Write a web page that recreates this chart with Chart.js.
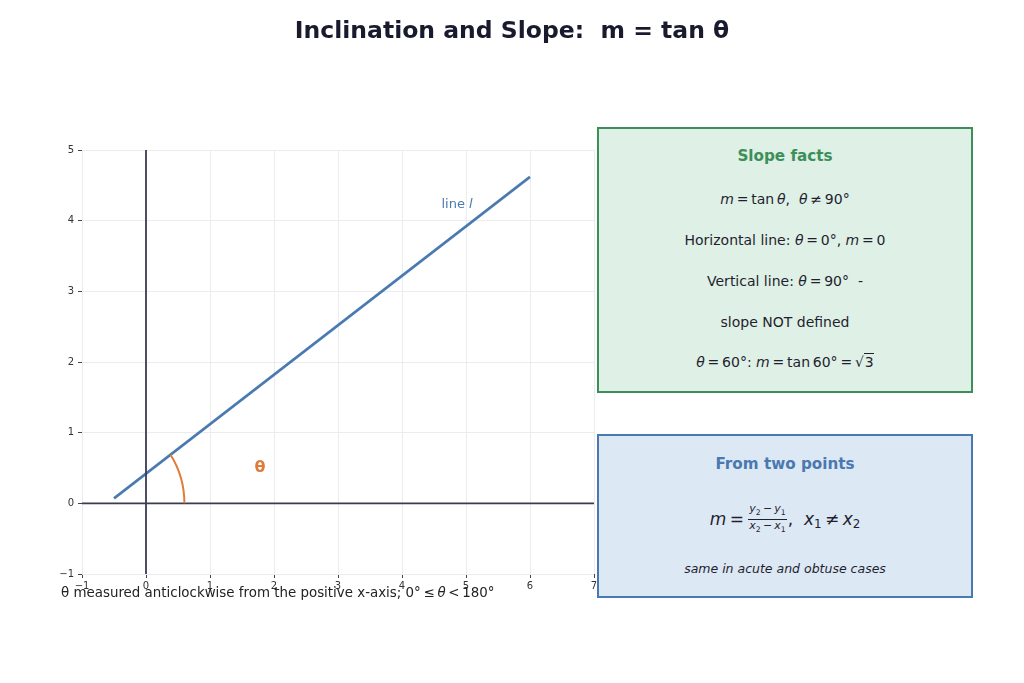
<!DOCTYPE html>
<html>
<head>
<meta charset="utf-8">
<script src="https://cdn.jsdelivr.net/npm/chart.js@4.4.1/dist/chart.umd.min.js"></script>
<style>
  html, body { margin: 0; padding: 0; background: #fff; }
  body { width: 1024px; height: 683px; position: relative; overflow: hidden;
         font-family: "DejaVu Sans", sans-serif; color: #1f1f2e; }
  #wrap { position: absolute; left: 0; top: 0; width: 1024px; height: 683px; }
  .title { position: absolute; left: 0; width: 1024px; top: 16px; text-align: center;
           font-size: 23.5px; font-weight: bold; color: #1a1a2e; }
  .caption { position: absolute; left: 61px; top: 585px; font-size: 13.4px; color: #222; white-space: nowrap; }
  .box { position: absolute; left: 597px; width: 376px; box-sizing: border-box; }
  .green { top: 127px; height: 266px; background: #dff0e6; border: 2px solid #3d8f5a; }
  .blue { top: 434px; height: 164px; background: #dde8f5; border: 2px solid #4a78b0; }
  .ln { position: absolute; left: 0; width: 100%; height: 22px; line-height: 22px;
        text-align: center; font-size: 14px; color: #1f1f2e; white-space: nowrap; }
  .hd { font-weight: bold; font-size: 15.2px; }
  i { font-style: italic; }
  .frac { display: inline-block; vertical-align: middle; font-size: 11px; line-height: 12px;
          text-align: center; margin: 0 1px; }
  .frac span { display: block; }
  .frac .num { border-bottom: 1px solid #1f1f2e; padding: 0 1px; }
  sub { font-size: 70%; vertical-align: -3px; }
  .sqrt { border-top: 1px solid #1f1f2e; padding-left: 1px; }
</style>
</head>
<body>
<div id="wrap"><canvas id="slopeChart" width="1024" height="683"></canvas></div>
<div class="title">Inclination and Slope:&nbsp; m = tan θ</div>
<div class="caption">θ measured anticlockwise from the positive x-axis; 0°&thinsp;≤&thinsp;<i>θ</i>&thinsp;&lt;&thinsp;180°</div>

<div class="box green">
  <div class="ln hd" style="top:16px;color:#3d8f5a">Slope facts</div>
  <div class="ln" style="top:59px"><i>m</i>&thinsp;=&thinsp;tan&thinsp;<i>θ</i>,&nbsp; <i>θ</i>&thinsp;≠&thinsp;90°</div>
  <div class="ln" style="top:100px">Horizontal line: <i>θ</i>&thinsp;=&thinsp;0°, <i>m</i>&thinsp;=&thinsp;0</div>
  <div class="ln" style="top:141px">Vertical line: <i>θ</i>&thinsp;=&thinsp;90° &nbsp;-</div>
  <div class="ln" style="top:182px">slope NOT defined</div>
  <div class="ln" style="top:222px"><i>θ</i>&thinsp;=&thinsp;60°: <i>m</i>&thinsp;=&thinsp;tan&thinsp;60°&thinsp;=&thinsp;√<span class="sqrt">3</span></div>
</div>

<div class="box blue">
  <div class="ln hd" style="top:17px;color:#4a78b0">From two points</div>
  <div class="ln" style="top:67px;font-size:17px;height:30px;line-height:30px">
    <i>m</i>&thinsp;=&thinsp;<span class="frac"><span class="num"><i>y</i><sub>2</sub>&thinsp;−&thinsp;<i>y</i><sub>1</sub></span><span><i>x</i><sub>2</sub>&thinsp;−&thinsp;<i>x</i><sub>1</sub></span></span>,&nbsp; <i>x</i><sub>1</sub>&thinsp;≠&thinsp;<i>x</i><sub>2</sub>
  </div>
  <div class="ln" style="top:122px;font-size:12.5px;font-style:italic">same in acute and obtuse cases</div>
</div>

<script>
// axis ranges and ticks
const xTicks = [-1, 0, 1, 2, 3, 4, 5, 6, 7];
const yTicks = [-1, 0, 1, 2, 3, 4, 5];

// line l (inclination 35 degrees, crosses the x-axis at -0.6)
const lineX = [-0.5, 6];
const lineY = [0.07, 4.62];

// angle marker
const vertexX = -0.6;
const thetaDeg = 35;
const arcRadius = 1.2;

// label anchors (data coords)
const lineLabel = { x: 4.86, y: 4.22, text: 'line ' };
const thetaLabel = { x: 1.78, y: 0.5, text: 'θ' };

const axisColor = '#3b3b52';
const lineColor = '#4a7ab0';
const arcColor = '#e07b39';

const linePoints = lineX.map((x, i) => ({ x: x, y: lineY[i] }));

// draws the theta arc and text labels through the scales
const markPlugin = {
    id: 'marks',
    afterDatasetsDraw(chart) {
        const ctx = chart.ctx;
        const xs = chart.scales.x, ys = chart.scales.y;
        const cx = xs.getPixelForValue(vertexX);
        const cy = ys.getPixelForValue(0);
        const rx = xs.getPixelForValue(vertexX + arcRadius) - cx;
        const ry = cy - ys.getPixelForValue(arcRadius);
        ctx.save();
        ctx.strokeStyle = arcColor;
        ctx.lineWidth = 2;
        ctx.beginPath();
        ctx.ellipse(cx, cy, rx, ry, 0, -thetaDeg * Math.PI / 180, 0);
        ctx.stroke();

        ctx.textAlign = 'center';
        ctx.textBaseline = 'middle';
        ctx.fillStyle = arcColor;
        ctx.font = 'bold 16px "DejaVu Sans"';
        ctx.fillText(thetaLabel.text, xs.getPixelForValue(thetaLabel.x), ys.getPixelForValue(thetaLabel.y));

        ctx.fillStyle = lineColor;
        ctx.font = '13px "DejaVu Sans"';
        const lx = xs.getPixelForValue(lineLabel.x);
        const ly = ys.getPixelForValue(lineLabel.y);
        const w1 = ctx.measureText(lineLabel.text).width;
        ctx.font = 'italic 13px "DejaVu Sans"';
        const w2 = ctx.measureText('l').width;
        ctx.textAlign = 'left';
        ctx.font = '13px "DejaVu Sans"';
        ctx.fillText(lineLabel.text, lx - (w1 + w2) / 2, ly);
        ctx.font = 'italic 13px "DejaVu Sans"';
        ctx.fillText('l', lx - (w1 + w2) / 2 + w1, ly);
        ctx.restore();
    }
};

function fixedTicks(values) {
    return function(scale) {
        scale.ticks = values.map(v => ({ value: v }));
    };
}

new Chart(document.getElementById('slopeChart'), {
    type: 'scatter',
    data: {
        datasets: [
            {
                data: [{ x: 0, y: yTicks[0] }, { x: 0, y: yTicks[yTicks.length - 1] }],
                showLine: true, borderColor: axisColor, borderWidth: 1.8, pointRadius: 0
            },
            {
                data: [{ x: xTicks[0], y: 0 }, { x: xTicks[xTicks.length - 1], y: 0 }],
                showLine: true, borderColor: axisColor, borderWidth: 1.8, pointRadius: 0
            },
            {
                data: linePoints,
                showLine: true, borderColor: lineColor, borderWidth: 2.6, pointRadius: 0
            }
        ]
    },
    options: {
        responsive: false,
        animation: false,
        layout: { padding: { left: 52, right: 430, top: 150, bottom: 89 } },
        plugins: { legend: { display: false }, tooltip: { enabled: false } },
        scales: {
            x: {
                type: 'linear',
                min: xTicks[0], max: xTicks[xTicks.length - 1],
                afterBuildTicks: fixedTicks(xTicks),
                afterFit: s => { s.height = 20; },
                border: { display: false },
                grid: { color: '#ebebf0', lineWidth: 1, tickLength: 4, tickColor: '#444' },
                ticks: {
                    color: '#333', padding: 2, maxRotation: 0,
                    font: { family: 'DejaVu Sans', size: 10 },
                    callback: v => String(v).replace('-', '−')
                }
            },
            y: {
                type: 'linear',
                min: yTicks[0], max: yTicks[yTicks.length - 1],
                afterBuildTicks: fixedTicks(yTicks),
                afterFit: s => { s.width = 30; },
                border: { display: false },
                grid: { color: '#ebebf0', lineWidth: 1, tickLength: 4, tickColor: '#444' },
                ticks: {
                    color: '#333', padding: 4,
                    font: { family: 'DejaVu Sans', size: 10 },
                    callback: v => String(v).replace('-', '−')
                }
            }
        }
    },
    plugins: [markPlugin]
});
</script>
</body>
</html>
